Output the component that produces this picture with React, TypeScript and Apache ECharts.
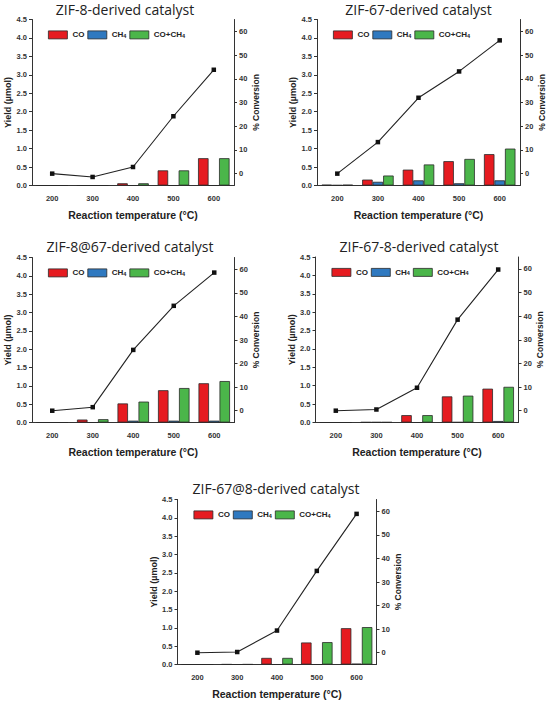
import React, { useEffect, useRef } from 'react';
import * as echarts from 'echarts';

// ---------- data ----------
const temperatures = ['200', '300', '400', '500', '600'];

const zif8CO = [0, 0, 0.06, 0.41, 0.74];
const zif8CH4 = [0, 0, 0, 0, 0];
const zif8Total = [0, 0, 0.06, 0.41, 0.74];
const zif8Conv = [0, -1.4, 2.8, 24.2, 43.8];

const zif67CO = [0.02, 0.16, 0.43, 0.66, 0.85];
const zif67CH4 = [0.01, 0.1, 0.14, 0.06, 0.14];
const zif67Total = [0.02, 0.27, 0.57, 0.72, 1.0];
const zif67Conv = [0, 13.3, 32.0, 43.1, 56.2];

const zif8at67CO = [0, 0.08, 0.52, 0.88, 1.07];
const zif8at67CH4 = [0, 0, 0.05, 0.05, 0.05];
const zif8at67Total = [0, 0.09, 0.57, 0.94, 1.13];
const zif8at67Conv = [0, 1.5, 25.8, 44.5, 58.6];

const zif678CO = [0, 0.01, 0.2, 0.71, 0.92];
const zif678CH4 = [0, 0.01, 0, 0.01, 0.04];
const zif678Total = [0, 0.01, 0.2, 0.73, 0.97];
const zif678Conv = [0, 0.5, 9.7, 38.5, 59.7];

const zif67at8CO = [0, 0.005, 0.18, 0.6, 0.99];
const zif67at8CH4 = [0, 0, 0, 0, 0.02];
const zif67at8Total = [0, 0.005, 0.18, 0.61, 1.02];
const zif67at8Conv = [0, 0.3, 9.4, 34.7, 58.9];

const seriesNames = ['CO', 'CH4', 'CO+CH4'];
const titles = [
  'ZIF-8-derived catalyst',
  'ZIF-67-derived catalyst',
  'ZIF-8@67-derived catalyst',
  'ZIF-67-8-derived catalyst',
  'ZIF-67@8-derived catalyst',
];

const panels = [
  { title: titles[0], co: zif8CO, ch4: zif8CH4, total: zif8Total, conv: zif8Conv },
  { title: titles[1], co: zif67CO, ch4: zif67CH4, total: zif67Total, conv: zif67Conv },
  { title: titles[2], co: zif8at67CO, ch4: zif8at67CH4, total: zif8at67Total, conv: zif8at67Conv },
  { title: titles[3], co: zif678CO, ch4: zif678CH4, total: zif678Total, conv: zif678Conv },
  { title: titles[4], co: zif67at8CO, ch4: zif67at8CH4, total: zif67at8Total, conv: zif67at8Conv },
];

// ---------- layout & style ----------
const layouts = [
  { left: 32, top: 19.5, width: 202, height: 166, titleX: 125, titleTop: 2 },
  { left: 317, top: 19.5, width: 203, height: 166, titleX: 418.5, titleTop: 2 },
  { left: 32, top: 257.5, width: 202.5, height: 165, titleX: 130, titleTop: 239 },
  { left: 315.5, top: 257, width: 203, height: 165.5, titleX: 419, titleTop: 239 },
  { left: 177.5, top: 499.5, width: 199, height: 165, titleX: 276, titleTop: 481 },
];

const FONT = '"Liberation Sans", Arial, sans-serif';
const TITLE_FONT = '"Open Sans", "Noto Sans", sans-serif';
const COLORS = ['#e61b20', '#2f79c0', '#4bb64a'];
const AXIS_COLOR = '#333';

const labelStyle = { fontSize: 7.5, fontWeight: 'bold', color: '#333', fontFamily: FONT };

function buildOption() {
  const grid: any[] = [];
  const xAxis: any[] = [];
  const yAxis: any[] = [];
  const series: any[] = [];
  const legend: any[] = [];
  const title: any[] = [];

  panels.forEach((p, i) => {
    const l = layouts[i];
    grid.push({ left: l.left, top: l.top, width: l.width, height: l.height });
    title.push({
      text: p.title,
      left: l.titleX,
      top: l.titleTop,
      padding: 0,
      textAlign: 'center',
      textStyle: { fontSize: 14, fontWeight: 'normal', color: '#222', fontFamily: TITLE_FONT },
    });
    xAxis.push({
      type: 'category',
      gridIndex: i,
      data: temperatures,
      boundaryGap: true,
      axisLine: { lineStyle: { color: AXIS_COLOR, width: 1 } },
      axisTick: { alignWithLabel: true, length: 3, lineStyle: { color: AXIS_COLOR } },
      axisLabel: { ...labelStyle, margin: 9 },
      name: 'Reaction temperature (°C)',
      nameLocation: 'middle',
      nameGap: 24,
      nameTextStyle: { fontSize: 10.5, fontWeight: 'bold', color: '#222', fontFamily: FONT },
    });
    yAxis.push({
      type: 'value',
      gridIndex: i,
      position: 'left',
      min: 0,
      max: 4.5,
      interval: 0.5,
      axisLine: { show: true, lineStyle: { color: AXIS_COLOR, width: 1 } },
      axisTick: { show: true, length: 3, lineStyle: { color: AXIS_COLOR } },
      splitLine: { show: false },
      axisLabel: { ...labelStyle, margin: 5, formatter: (v: number) => v.toFixed(1) },
      name: 'Yield (µmol)',
      nameLocation: 'middle',
      nameRotate: 90,
      nameGap: 14,
      nameTextStyle: { fontSize: 9, fontWeight: 'bold', color: '#222', fontFamily: FONT },
    });
    yAxis.push({
      type: 'value',
      gridIndex: i,
      position: 'right',
      min: -5,
      max: 65,
      splitNumber: 7,
      axisLine: { show: true, lineStyle: { color: AXIS_COLOR, width: 1 } },
      axisTick: { show: true, length: 3, lineStyle: { color: AXIS_COLOR } },
      splitLine: { show: false },
      axisLabel: {
        ...labelStyle,
        margin: 5,
        showMinLabel: false,
        showMaxLabel: false,
        formatter: (v: number) => (v >= 0 && v <= 60 && v % 10 === 0 ? String(v) : ''),
      },
      name: '% Conversion',
      nameLocation: 'middle',
      nameRotate: 90,
      nameGap: 16,
      nameTextStyle: { fontSize: 8.5, fontWeight: 'bold', color: '#222', fontFamily: FONT },
    });

    const barData = [p.co, p.ch4, p.total];
    barData.forEach((d, k) => {
      series.push({
        type: 'bar',
        name: seriesNames[k],
        xAxisIndex: i,
        yAxisIndex: 2 * i,
        data: d,
        barWidth: 10.5,
        barGap: '0%',
        itemStyle: { color: COLORS[k], borderColor: '#2a2a2a', borderWidth: 0.8 },
      });
    });
    series.push({
      type: 'line',
      name: 'Conversion',
      xAxisIndex: i,
      yAxisIndex: 2 * i + 1,
      data: p.conv,
      symbol: 'rect',
      symbolSize: 4.5,
      itemStyle: { color: '#111' },
      lineStyle: { color: '#222', width: 1.1 },
      z: 5,
    });

    legend.push({
      data: seriesNames,
      left: l.left + 16,
      top: l.top + 11,
      padding: 0,
      orient: 'horizontal',
      icon: 'rect',
      itemWidth: 19,
      itemHeight: 8,
      itemGap: 3,
      selectedMode: false,
      itemStyle: { borderColor: '#2a2a2a', borderWidth: 0.8 },
      formatter: (name: string) =>
        name === 'CH4' ? 'CH{sub|4}' : name === 'CO+CH4' ? 'CO+CH{sub|4}' : name,
      textStyle: {
        fontSize: 8,
        fontWeight: 'bold',
        color: '#222',
        fontFamily: FONT,
        rich: {
          sub: { fontSize: 5.5, fontWeight: 'bold', color: '#222', fontFamily: FONT, verticalAlign: 'bottom' },
        },
      },
    });
  });

  return { animation: false, backgroundColor: '#fff', title, grid, xAxis, yAxis, series, legend };
}

export default function App() {
  const ref = useRef<HTMLDivElement>(null);
  useEffect(() => {
    document.body.style.margin = '0';
    if (!ref.current) return;
    const chart = echarts.init(ref.current, undefined, { renderer: 'svg' });
    chart.setOption(buildOption() as any);
    return () => chart.dispose();
  }, []);
  return <div ref={ref} style={{ width: 550, height: 706 }} />;
}
